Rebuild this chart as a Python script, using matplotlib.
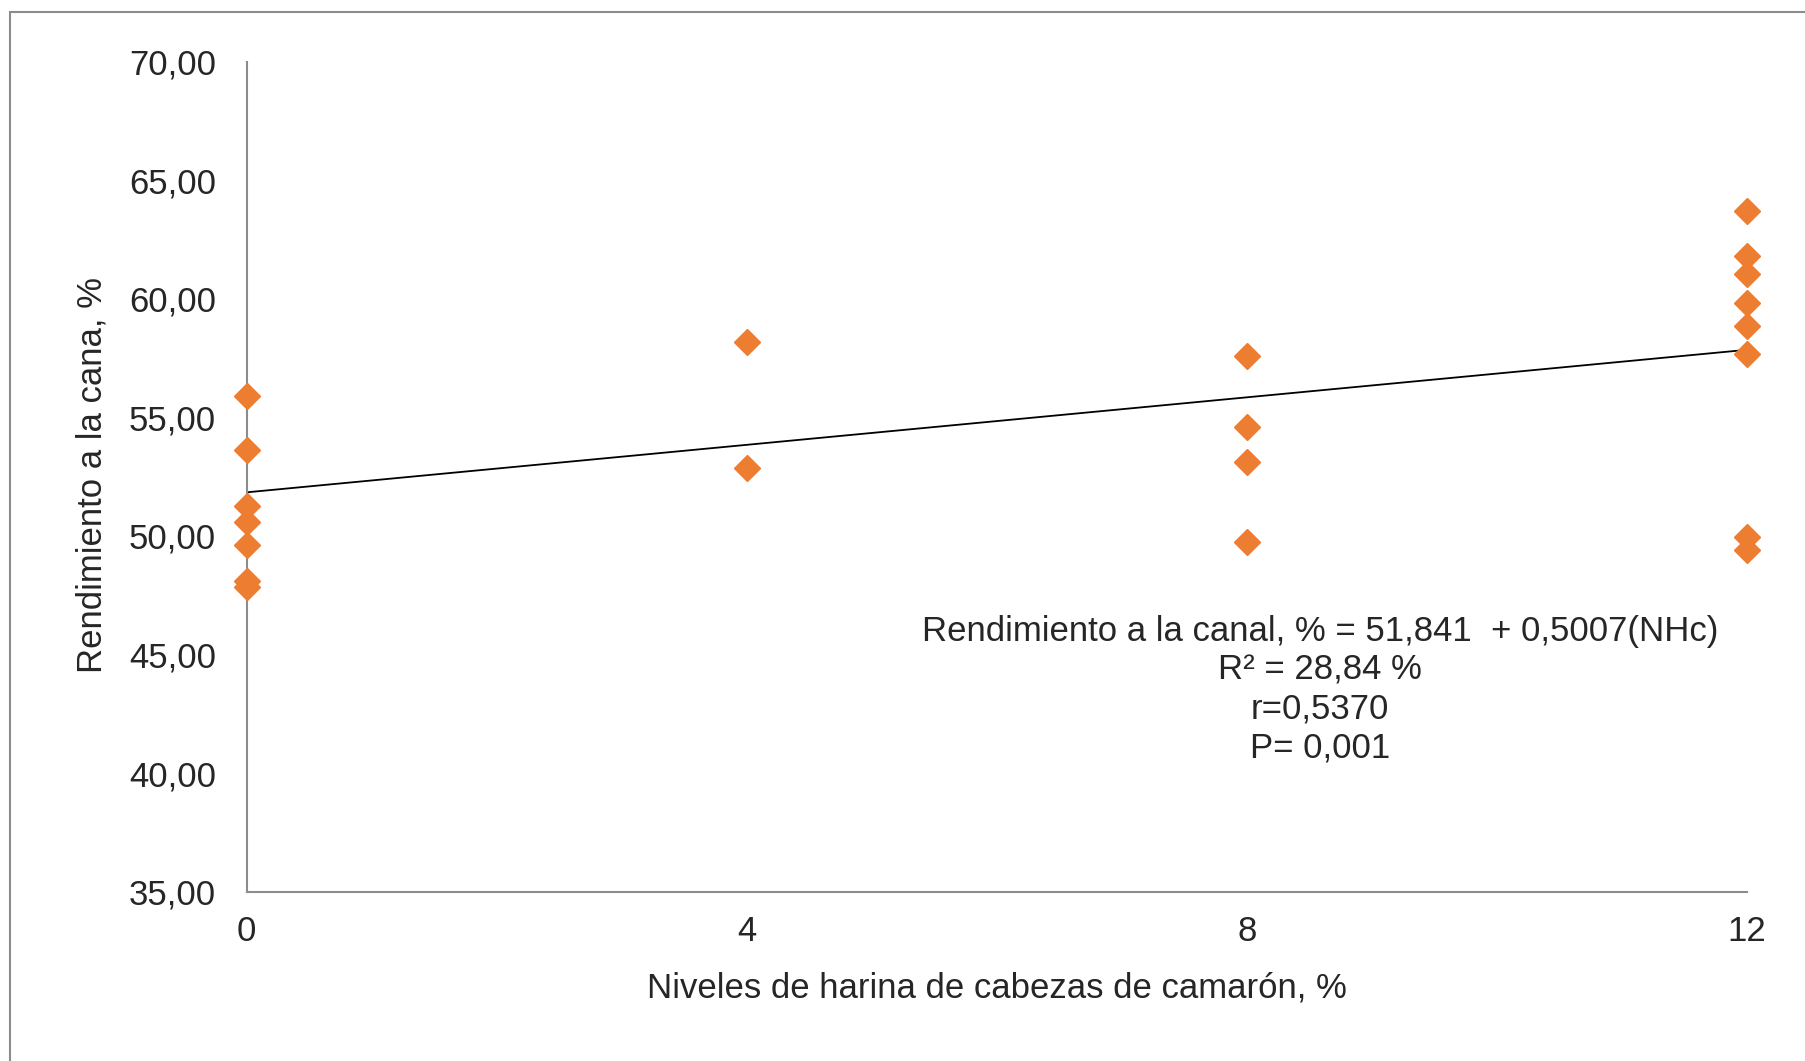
import matplotlib
matplotlib.use('Agg')
import matplotlib.pyplot as plt
from matplotlib.patches import Rectangle

plt.rcParams['font.family'] = ['Liberation Sans', 'DejaVu Sans']

# data
x_levels = [0]*7 + [4]*2 + [8]*4 + [12]*8
rendimiento = [55.90, 53.62, 51.25, 50.60, 49.64, 48.10, 47.85,
               58.19, 52.85,
               57.59, 54.58, 53.13, 49.76,
               63.72, 61.82, 61.05, 59.84, 58.85, 57.67, 49.97, 49.41]
intercept, slope = 51.841, 0.5007
x_ticks = [0, 4, 8, 12]
y_ticks = [35, 40, 45, 50, 55, 60, 65, 70]
y_ticklabels = ['35,00', '40,00', '45,00', '50,00', '55,00', '60,00', '65,00', '70,00']
annot_lines = ['Rendimiento a la canal, % = 51,841  + 0,5007(NHc)',
               'R² = 28,84 %', 'r=0,5370', 'P= 0,001']

W, H = 1805, 1061
fig = plt.figure(figsize=(W/100, H/100), dpi=100)
ax = fig.add_axes([246.7/W, 1 - 891.7/H, 1500/W, 830/H])

fig.add_artist(Rectangle((10/W, -0.1), 2, 1 - 11.7/H + 0.1, transform=fig.transFigure,
                         fill=False, ec='#8c8c8c', lw=1.5))

txt = '#262626'
fs = 25
ax.plot(x_levels, rendimiento, 'D', color='#ED7D31', ms=13.5, mec='#ED7D31', mew=1,
        clip_on=False, zorder=3)
ax.plot([0, 12], [intercept, intercept + slope*12], color='black', lw=1.3, zorder=2)

ax.set_xlim(0, 12)
ax.set_ylim(35, 70)
ax.set_xticks(x_ticks)
ax.set_yticks(y_ticks)
ax.set_yticklabels(y_ticklabels)
ax.tick_params(length=0, labelsize=fs, colors=txt)
ax.tick_params(axis='x', pad=17)
ax.tick_params(axis='y', pad=22)
for s in ['top', 'right']:
    ax.spines[s].set_visible(False)
for s in ['left', 'bottom']:
    ax.spines[s].set_color('#8c8c8c')
    ax.spines[s].set_linewidth(1.5)

ax.set_xlabel('Niveles de harina de cabezas de camarón, %', fontsize=fs, color=txt, va='center')
ax.xaxis.set_label_coords(0.5, -0.116)
ax.set_ylabel('Rendimiento a la cana, %', fontsize=fs, color=txt, va='center')
ax.yaxis.set_label_coords(-0.103, 0.502)

for i, line in enumerate(annot_lines):
    ax.text(0.7155, (891.7 - 631 - i*39)/830, line, transform=ax.transAxes,
            ha='center', va='center', fontsize=fs, color=txt)

fig.savefig('out.png', dpi=100)
